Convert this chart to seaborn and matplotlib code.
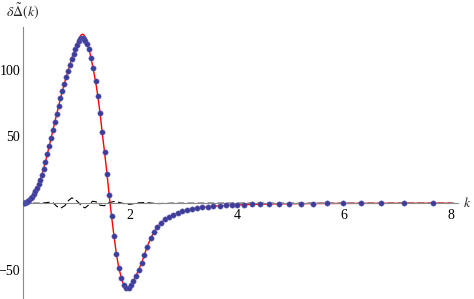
import seaborn as sns
import matplotlib.pyplot as plt
from matplotlib.ticker import MultipleLocator, FixedLocator

# data
dot_k = [0.0, 0.02, 0.04, 0.06, 0.08, 0.10, 0.12, 0.145, 0.17, 0.20, 0.23, 0.26, 0.29, 0.32,
         0.35, 0.385, 0.42, 0.455, 0.49, 0.525, 0.56, 0.595, 0.63, 0.665, 0.70, 0.735, 0.77,
         0.805, 0.84, 0.875, 0.91, 0.945, 0.98, 1.01, 1.04, 1.065, 1.09, 1.115, 1.14, 1.165,
         1.196, 1.23, 1.27, 1.31, 1.355, 1.40, 1.44, 1.48, 1.525, 1.57, 1.61, 1.655, 1.70,
         1.745, 1.79, 1.84, 1.885, 1.93, 1.975, 2.02, 2.06, 2.11, 2.16, 2.22, 2.27, 2.32,
         2.39, 2.45, 2.51, 2.58, 2.65, 2.73, 2.81, 2.89, 2.97, 3.06, 3.15, 3.25, 3.35, 3.45,
         3.56, 3.68, 3.79, 3.90, 4.00, 4.13, 4.28, 4.43, 4.60, 4.78, 4.97, 5.20, 5.42, 5.68,
         5.98, 6.32, 6.69, 7.12, 7.66]
dot_v = [0.0, 0.07, 0.27, 0.6, 1.1, 1.7, 2.5, 3.6, 5.0, 6.9, 9.1, 11.6, 14.4, 17.6,
         21.2, 25.6, 31.0, 36.8, 42.8, 48.8, 54.8, 60.8, 66.8, 72.7, 78.5, 84.0, 89.2,
         94.2, 99.0, 103.5, 108.0, 112.0, 115.8, 118.8, 121.3, 122.8, 123.8, 124.0, 123.3, 121.6,
         119.0, 115.5, 109.0, 101.0, 91.5, 80.0, 67.5, 53.0, 38.0, 22.0, 6.0, -9.7, -24.5,
         -37.8, -48.5, -55.8, -61.0, -63.8, -63.5, -61.2, -58.5, -54.5, -50.0, -44.5, -38.5, -32.5,
         -26.0, -21.5, -18.0, -14.8, -12.0, -10.0, -8.5, -7.2, -6.2, -5.2, -4.2, -3.7, -3.2, -2.7,
         -2.2, -2.0, -1.7, -1.5, -1.3, -1.1, -0.9, -0.8, -0.6, -0.5, -0.4, -0.3, -0.25, -0.2,
         -0.15, -0.1, -0.08, -0.05, -0.03]

# fitted curve (red)
fit_k = [0.0, 0.10, 0.20, 0.30, 0.35, 0.42, 0.49, 0.56, 0.63, 0.70, 0.77, 0.84, 0.91, 0.98,
         1.01, 1.04, 1.065, 1.09, 1.115, 1.14, 1.165, 1.196, 1.23, 1.27, 1.31, 1.355, 1.40,
         1.44, 1.48, 1.525, 1.57, 1.61, 1.655, 1.70, 1.745, 1.79, 1.84, 1.885, 1.93, 1.975,
         2.02, 2.06, 2.11, 2.16, 2.22, 2.27, 2.32, 2.39, 2.45, 2.51, 2.58, 2.65, 2.73, 2.81,
         2.89, 2.97, 3.06, 3.15, 3.25, 3.35, 3.45, 3.56, 3.68, 3.79, 3.90, 4.00, 4.28, 4.60,
         4.97, 5.42, 5.98, 6.69, 7.66, 8.0]
fit_v = [0.0, 1.7, 6.9, 15.4, 21.2, 31.0, 42.8, 54.8, 66.8, 78.5, 89.2, 99.0, 108.3, 116.5,
         119.8, 122.8, 124.8, 126.2, 126.6, 126.0, 124.2, 120.8, 116.0, 109.2, 101.0, 91.5, 80.0,
         67.5, 53.0, 38.0, 22.0, 6.0, -9.7, -24.5, -37.8, -48.5, -56.0, -61.8, -64.6, -64.3,
         -61.6, -58.6, -54.5, -50.0, -44.5, -38.5, -32.5, -26.0, -21.5, -18.0, -14.8, -12.0, -10.0,
         -8.5, -7.2, -6.2, -5.2, -4.2, -3.7, -3.2, -2.7, -2.2, -2.0, -1.7, -1.5, -1.3, -0.9, -0.6,
         -0.4, -0.25, -0.15, -0.08, -0.03, -0.02]

# residual (black dashed)
res_k = [0.0, 0.35, 0.48, 0.56, 0.63, 0.70, 0.78, 0.85, 0.91, 0.97, 1.04, 1.10, 1.16, 1.23,
         1.30, 1.37, 1.44, 1.52, 1.60, 1.70, 1.80, 1.90, 2.0, 2.15, 2.3, 2.5, 2.8, 8.1]
res_v = [0.0, 0.0, 0.7, 0.4, -2.3, -3.8, -1.9, 2.0, 4.0, 3.1, 0.4, -2.3, -3.5, -1.2,
         1.5, 1.0, -1.5, -1.9, 0.3, 1.3, 0.6, -0.5, -0.8, 0.3, 0.5, -0.3, 0.0, 0.0]

x_major = [2, 4, 6, 8]
y_major = [-50, 50, 100]

sns.set_style("white")
plt.rcParams['font.family'] = ['Liberation Serif', 'DejaVu Serif']
plt.rcParams['mathtext.fontset'] = 'stix'

fig = plt.figure(figsize=(4.74, 2.99), dpi=100)
ax = fig.add_axes([23 / 474, 1 / 299, 435 / 474, 271 / 299])
ax.patch.set_alpha(0)

sns.lineplot(x=res_k, y=res_v, ax=ax, color='black', lw=0.8, sort=False,
             estimator=None, zorder=1, linestyle=(0, (6, 3)))
sns.lineplot(x=fit_k, y=fit_v, ax=ax, color='red', lw=1.0, sort=False,
             estimator=None, zorder=2)
sns.scatterplot(x=dot_k, y=dot_v, ax=ax, color='#3d3d99', s=15, linewidth=0.3,
                edgecolor='#6a6ac0', zorder=3)

ax.set_xlim(0, 8.13)
ax.set_ylim(-71, 132)

for side in ['top', 'right']:
    ax.spines[side].set_visible(False)
ax.spines['left'].set_position(('data', 0))
ax.spines['bottom'].set_position(('data', 0))
for side in ['left', 'bottom']:
    ax.spines[side].set_color('#8a8a8a')
    ax.spines[side].set_linewidth(0.8)

ax.xaxis.set_major_locator(FixedLocator(x_major))
ax.xaxis.set_minor_locator(MultipleLocator(0.5))
ax.yaxis.set_major_locator(FixedLocator(y_major))
ax.yaxis.set_minor_locator(MultipleLocator(10))
ax.tick_params(axis='both', which='major', direction='in', length=4, width=0.6,
               color='#8a8a8a', labelsize=10, labelcolor='black')
ax.tick_params(axis='both', which='minor', direction='in', length=2.2, width=0.5,
               color='#8a8a8a')
ax.tick_params(axis='x', which='major', pad=4)
ax.tick_params(axis='y', which='major', pad=2)
ax.set_xlabel('')
ax.set_ylabel('')

fig.text(23 / 474, 1 - 11 / 299, r'$\delta\tilde{\Delta}(k)$', ha='center', va='center',
         fontsize=10)
fig.text(467 / 474, 1 - 203 / 299, r'$k$', ha='center', va='center', fontsize=10)

fig.savefig('out.png', dpi=100)
